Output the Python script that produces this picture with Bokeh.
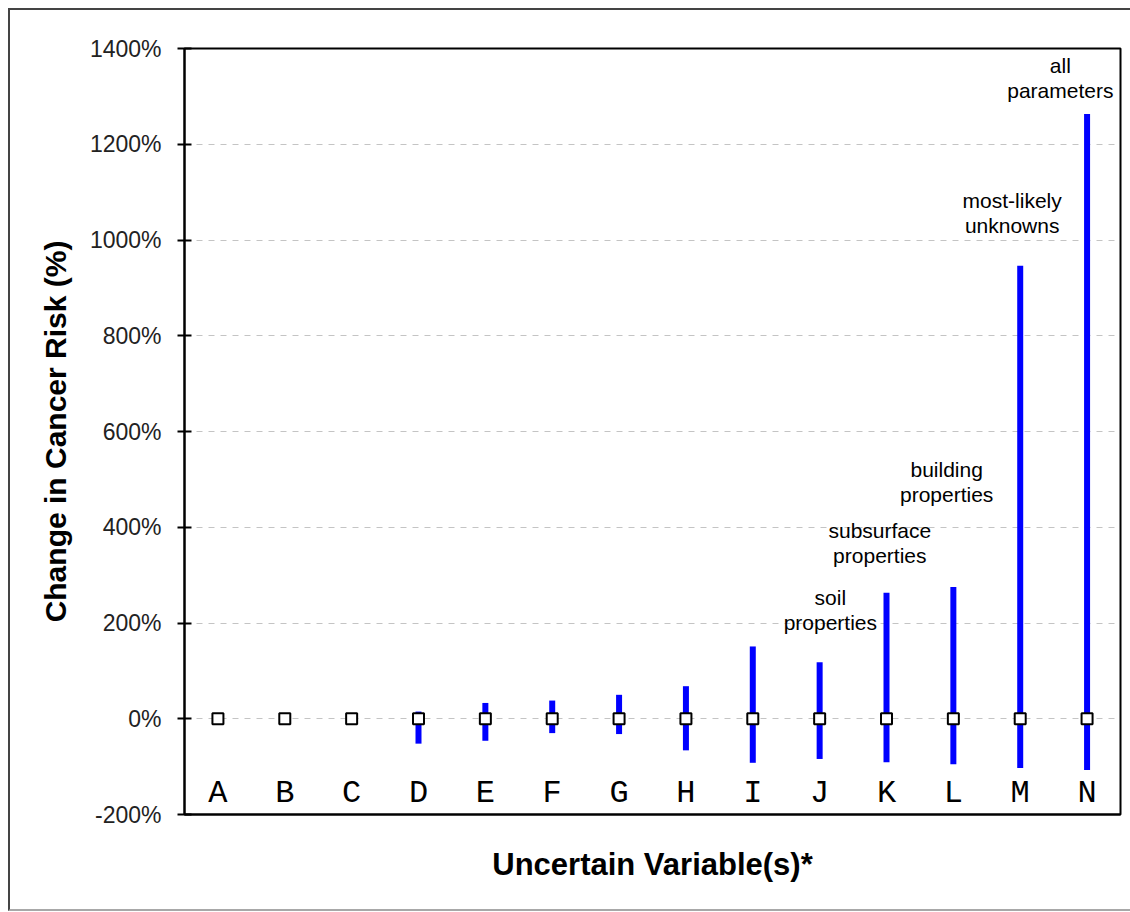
from bokeh.plotting import figure
from bokeh.models import (FixedTicker, PrintfTickFormatter, Range1d, ColumnDataSource,
                          InlineStyleSheet)
from bokeh.core.properties import value
from bokeh.embed import file_html
from bokeh.resources import INLINE

# Uncertain variable groups and the range of change in cancer risk (%)
categories = ["A", "B", "C", "D", "E", "F", "G", "H", "I", "J", "K", "L", "M", "N"]
risk_high = [0, 0, 0, 15, 33, 38, 50, 68, 151, 118, 263, 275, 946, 1263]
risk_low = [0, 0, -13, -52, -46, -30, -32, -66, -92, -84, -91, -95, -103, -107]
baseline = [0] * len(categories)

# Group notes shown above the tallest bars
note_text = ["soil\nproperties", "subsurface\nproperties", "building\nproperties",
             "most-likely\nunknowns", "all\nparameters"]
note_x = [9.66, 10.4, 11.4, 12.38, 13.1]
note_y = [227, 367, 494, 1056, 1339]

y_ticks = [-200, 0, 200, 400, 600, 800, 1000, 1200, 1400]

xs = [i + 0.5 for i in range(len(categories))]
src = ColumnDataSource(dict(x=xs, cat=categories, hi=risk_high, lo=risk_low,
                            base=baseline, lab_y=[-156] * len(categories)))

p = figure(width=1130, height=912, output_backend="svg", toolbar_location=None,
           x_range=Range1d(0, len(categories)), y_range=Range1d(-200, 1400),
           min_border_left=184, min_border_right=10, min_border_top=48,
           min_border_bottom=98)

# chart-area frame (left, top and bottom edges) drawn as a CSS overlay
frame_css = """
:host { position: relative; }
:host::after {
  content: "";
  position: absolute;
  left: 8px; top: 8px; right: 0; bottom: 1px;
  border-left: 2px solid #444444;
  border-top: 2px solid #444444;
  border-bottom: 2px solid #a8a8a8;
  border-right: 0 none;
  box-sizing: border-box;
  pointer-events: none;
  z-index: 10;
}
"""
p.stylesheets = [InlineStyleSheet(css=frame_css)]

p.background_fill_color = "white"
p.border_fill_color = "white"
p.outline_line_color = "black"
p.outline_line_width = 2

# grid
p.xgrid.visible = False
p.ygrid.ticker = FixedTicker(ticks=[0, 200, 400, 600, 800, 1000, 1200])
p.ygrid.grid_line_color = "#c4c4c4"
p.ygrid.grid_line_dash = "6 6"
p.ygrid.grid_line_width = 1

# y axis
p.yaxis.ticker = FixedTicker(ticks=y_ticks)
p.yaxis.formatter = PrintfTickFormatter(format="%d%%")
p.yaxis.axis_label = "Change in Cancer Risk (%)"
p.yaxis.axis_label_text_font = "Liberation Sans"
p.yaxis.axis_label_text_font_style = "bold"
p.yaxis.axis_label_text_font_size = "30px"
p.yaxis.axis_label_text_color = "black"
p.yaxis.axis_label_standoff = 15
p.yaxis.major_label_text_font = "Liberation Sans"
p.yaxis.major_label_text_font_size = "23px"
p.yaxis.major_label_text_color = "#222222"
p.yaxis.major_label_standoff = 16
p.yaxis.major_tick_in = 7
p.yaxis.major_tick_out = 7
p.yaxis.minor_tick_line_color = None
p.yaxis.axis_line_width = 2
p.yaxis.major_tick_line_width = 2
p.yaxis.axis_line_color = "black"
p.yaxis.major_tick_line_color = "black"

# x axis: only the baseline and the title
p.xaxis.ticker = FixedTicker(ticks=[])
p.xaxis.major_tick_line_color = None
p.xaxis.minor_tick_line_color = None
p.xaxis.axis_line_width = 2
p.xaxis.axis_line_color = "black"
p.xaxis.axis_label = "Uncertain Variable(s)*"
p.xaxis.axis_label_text_font = "Liberation Sans"
p.xaxis.axis_label_text_font_style = "bold"
p.xaxis.axis_label_text_font_size = "31px"
p.xaxis.axis_label_text_color = "black"
p.xaxis.axis_label_standoff = 32

# range bars
p.segment(x0="x", y0="lo", x1="x", y1="hi", source=src, line_color="#0000ff",
          line_width=6, line_cap="butt")

# baseline markers
p.scatter(x="x", y="base", source=src, marker="square", size=11,
          fill_color="white", line_color="black", line_width=2)

# category letters inside the plot
p.text(x="x", y="lab_y", text="cat", source=src, text_font=value("Liberation Mono"),
       text_font_size="32px", text_align="center", text_baseline="middle",
       text_color="black")

# group notes
p.text(x=note_x, y=note_y, text=note_text, text_font=value("Liberation Sans"),
       text_font_size="21px", text_align="center", text_baseline="middle",
       text_color="black", text_line_height=1.1)

open("out.html", "w").write(file_html(p, INLINE))
